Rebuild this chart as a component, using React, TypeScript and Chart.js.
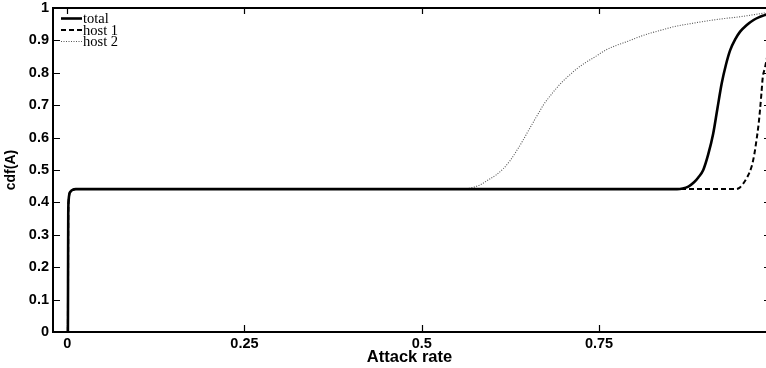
import React, { useEffect, useRef } from "react";
import { Chart, registerables } from "chart.js";

Chart.register(...registerables);

// ---- data ----
const xTickValues = [0, 0.25, 0.5, 0.75];
const yTickValues = [0, 0.1, 0.2, 0.3, 0.4, 0.5, 0.6, 0.7, 0.8, 0.9, 1];
const seriesLabels = ["total", "host 1", "host 2"];

const totalX = [0.001, 0.0012, 0.0015, 0.002, 0.003, 0.005, 0.008, 0.012, 0.86, 0.868, 0.876, 0.884, 0.89, 0.897, 0.904, 0.911, 0.917, 0.923, 0.929, 0.935, 0.942, 0.949, 0.958, 0.968, 0.976, 0.984, 0.99];
const totalY = [0, 0.15, 0.36, 0.405, 0.425, 0.434, 0.439, 0.441, 0.441, 0.443, 0.449, 0.462, 0.477, 0.5, 0.548, 0.612, 0.69, 0.767, 0.825, 0.87, 0.903, 0.927, 0.947, 0.963, 0.972, 0.978, 0.983];

const host1X = [0.001, 0.0012, 0.0015, 0.002, 0.003, 0.005, 0.008, 0.012, 0.942, 0.948, 0.953, 0.959, 0.965, 0.969, 0.972, 0.975, 0.977, 0.979, 0.981, 0.984, 0.988, 0.995];
const host1Y = [0, 0.15, 0.36, 0.405, 0.425, 0.434, 0.439, 0.441, 0.441, 0.445, 0.457, 0.478, 0.509, 0.548, 0.591, 0.64, 0.684, 0.735, 0.787, 0.815, 0.86, 0.94];

const host2X = [0.001, 0.0012, 0.0015, 0.002, 0.003, 0.005, 0.008, 0.012, 0.56, 0.566, 0.575, 0.585, 0.592, 0.605, 0.615, 0.625, 0.634, 0.641, 0.648, 0.654, 0.66, 0.666, 0.671, 0.678, 0.686, 0.693, 0.7, 0.71, 0.719, 0.73, 0.742, 0.761, 0.775, 0.789, 0.808, 0.822, 0.84, 0.855, 0.88, 0.902, 0.925, 0.949, 0.97, 0.99];
const host2Y = [0, 0.15, 0.36, 0.405, 0.425, 0.434, 0.439, 0.441, 0.441, 0.443, 0.448, 0.457, 0.467, 0.485, 0.504, 0.53, 0.56, 0.585, 0.612, 0.635, 0.658, 0.68, 0.699, 0.72, 0.742, 0.76, 0.776, 0.796, 0.813, 0.83, 0.846, 0.872, 0.885, 0.896, 0.912, 0.922, 0.933, 0.942, 0.952, 0.96, 0.967, 0.973, 0.98, 0.987];

const toPoints = (xs: number[], ys: number[]) => xs.map((x, i) => ({ x, y: ys[i] }));

const tickFont = { family: "'Liberation Sans', Arial, sans-serif", weight: "bold" as const, size: 14.5, lineHeight: 1.2 };

const framePlugin = {
  id: "matlabFrame",
  afterDraw(chart: any) {
    const { ctx, chartArea: a, scales } = chart;
    const xs = scales.x;
    const ys = scales.y;
    ctx.save();
    ctx.strokeStyle = "#000";
    // top spine
    ctx.lineWidth = 2;
    ctx.beginPath();
    ctx.moveTo(a.left - 1, a.top);
    ctx.lineTo(a.right, a.top);
    ctx.stroke();
    // inward ticks
    ctx.lineWidth = 1.2;
    ctx.beginPath();
    for (const v of yTickValues) {
      const py = Math.round(ys.getPixelForValue(v)) + 0.5;
      ctx.moveTo(a.left, py);
      ctx.lineTo(a.left + 7, py);
      ctx.moveTo(a.right, py);
      ctx.lineTo(a.right - 2, py);
    }
    for (const v of xTickValues) {
      const px = Math.round(xs.getPixelForValue(v)) + 0.5;
      ctx.moveTo(px, a.bottom);
      ctx.lineTo(px, a.bottom - 7);
      ctx.moveTo(px, a.top);
      ctx.lineTo(px, a.top + 6);
    }
    ctx.stroke();
    // legend (no box)
    const sets = chart.data.datasets;
    ctx.font = "14.5px 'Liberation Serif', 'Times New Roman', serif";
    ctx.textBaseline = "middle";
    ctx.fillStyle = "#000";
    sets.forEach((ds: any, i: number) => {
      const ry = a.top + 10.5 + i * 11.5;
      ctx.save();
      ctx.strokeStyle = ds.borderColor;
      ctx.lineWidth = ds.borderWidth;
      ctx.setLineDash(ds.borderDash || []);
      ctx.beginPath();
      ctx.moveTo(a.left + 8, ry);
      ctx.lineTo(a.left + 29, ry);
      ctx.stroke();
      ctx.restore();
      ctx.fillText(ds.label, a.left + 30, ry + 1);
    });
    ctx.restore();
  },
};

export default function App() {
  const ref = useRef<HTMLCanvasElement | null>(null);
  useEffect(() => {
    if (!ref.current) return;
    const chart = new Chart(ref.current, {
      type: "line",
      data: {
        datasets: [
          {
            label: seriesLabels[0],
            data: toPoints(totalX, totalY),
            borderColor: "#000",
            borderWidth: 2.6,
            pointRadius: 0,
            cubicInterpolationMode: "monotone",
            order: 0,
          },
          {
            label: seriesLabels[1],
            data: toPoints(host1X, host1Y),
            borderColor: "#000",
            borderWidth: 2,
            borderDash: [5, 3],
            pointRadius: 0,
            cubicInterpolationMode: "monotone",
            order: 1,
          },
          {
            label: seriesLabels[2],
            data: toPoints(host2X, host2Y),
            borderColor: "#555",
            borderWidth: 1.1,
            borderDash: [1, 1.5],
            pointRadius: 0,
            cubicInterpolationMode: "monotone",
            order: 2,
          },
        ] as any,
      },
      options: {
        animation: false,
        responsive: false,
        events: [],
        layout: { padding: { top: 8, left: 0, right: 0, bottom: 0 } },
        plugins: { legend: { display: false }, tooltip: { enabled: false } },
        scales: {
          x: {
            type: "linear",
            min: -0.02,
            max: 0.9855,
            afterFit: (s: any) => {
              s.height = 36;
              s.paddingLeft = 0;
              s.paddingRight = 0;
            },
            afterBuildTicks: (s: any) => {
              s.ticks = xTickValues.map((value) => ({ value }));
            },
            grid: { display: true, drawOnChartArea: false, drawTicks: false },
            border: { display: true, width: 2, color: "#000" },
            ticks: {
              color: "#000",
              font: tickFont,
              padding: 3,
              maxRotation: 0,
              autoSkip: false,
              callback: (v: any) => String(v),
            },
            title: {
              display: true,
              text: "Attack rate",
              color: "#000",
              font: { ...tickFont, size: 16.5 },
              padding: { top: 0, bottom: 1 },
            },
          },
          y: {
            type: "linear",
            min: 0,
            max: 1,
            afterFit: (s: any) => {
              s.width = 53;
              s.paddingTop = 0;
              s.paddingBottom = 0;
            },
            afterBuildTicks: (s: any) => {
              s.ticks = yTickValues.map((value) => ({ value }));
            },
            grid: { display: true, drawOnChartArea: false, drawTicks: false },
            border: { display: true, width: 2, color: "#000" },
            ticks: {
              color: "#000",
              font: tickFont,
              padding: 4,
              autoSkip: false,
              callback: (v: any) => String(v),
            },
            title: {
              display: true,
              text: "cdf(A)",
              color: "#000",
              font: { ...tickFont, size: 14 },
              padding: { top: 3, bottom: 0 },
            },
          },
        },
      },
      plugins: [framePlugin],
    });
    return () => chart.destroy();
  }, []);
  return (
    <div style={{ position: "fixed", left: 0, top: 0, width: 766, height: 368, background: "#fff" }}>
      <canvas ref={ref} width={766} height={368} style={{ display: "block" }} />
    </div>
  );
}
